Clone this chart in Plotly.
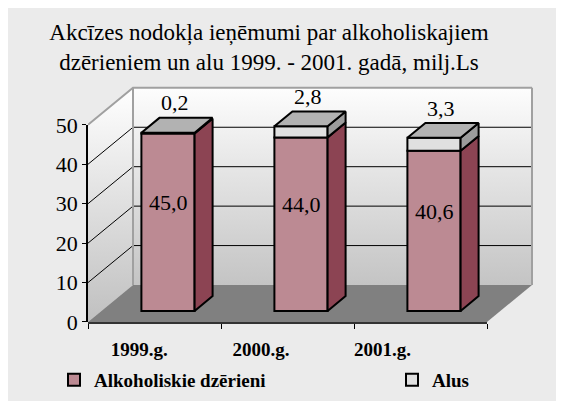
import plotly.graph_objects as go

# ---------------- data ----------------
categories = ["1999.g.", "2000.g.", "2001.g."]
alkoholiskie = [45.0, 44.0, 40.6]
alus = [0.2, 2.8, 3.3]
series_names = ["Alkoholiskie dzērieni", "Alus"]
y_ticks = [0, 10, 20, 30, 40, 50]
title_lines = ["Akcīzes nodokļa ieņēmumi par alkoholiskajiem",
               "dzērieniem un alu 1999. - 2001. gadā, milj.Ls"]


def fmt(v):
    return f"{v:.1f}".replace(".", ",")


# ---------------- geometry / style ----------------
PAGE = 8                          # page body margin in front of the figure
FIG_W, FIG_H = 556, 393
M_L, M_R, M_T, M_B = 80, 30, 77, 79
PW = FIG_W - M_L - M_R
PH = FIG_H - M_T - M_B
N = len(categories)
X_MIN = -0.5
X_PX = 133.0                      # pixels per category
X_MAX = X_MIN + PW / X_PX
Y_MAX = 60.1
Y_PX = PH / Y_MAX
DX = 45 / X_PX                    # full depth of the 3D box (x units)
DY = 37 / Y_PX                    # full depth of the 3D box (y units)
WALL_TOP = y_ticks[-1]
FRONT = 0.3                       # bar front position in depth
DEPTH = 0.4                       # bar thickness in depth
BAR_W = 0.4
BAR_OFF = FRONT * DX - BAR_W / 2
SDX, SDY = DEPTH * DX, DEPTH * DY
BASE = FRONT * DY

FONT = "Liberation Serif"
BG = "#ebebeb"
ALK_FRONT, ALK_SIDE = "#bc8a93", "#8c4453"
ALUS_FRONT, ALUS_SIDE, ALUS_TOP = "#e0e0e0", "#9c9c9c", "#b2b2b2"
EDGE = "#a0a0a0"


def px_x(p):   # page pixel -> paper fraction
    return (p - PAGE - M_L) / PW


def px_y(p):
    return (FIG_H - M_B - (p - PAGE)) / PH


fig = go.Figure()

# ---- walls and floor (main subplot x/y) ----
bx0, bx1 = X_MIN + DX, X_MIN + N + DX
fig.add_trace(go.Scatter(
    x=[X_MIN, X_MIN, bx0, bx0, X_MIN], y=[0, WALL_TOP, WALL_TOP + DY, DY, 0],
    fill="toself", mode="none", hoverinfo="skip", showlegend=False,
    fillgradient=dict(type="vertical", colorscale=[[0, "#c0c0c0"], [1, "#ffffff"]])))
fig.add_trace(go.Scatter(
    x=[bx0, bx1, bx1, bx0, bx0], y=[DY, DY, WALL_TOP + DY, WALL_TOP + DY, DY],
    fill="toself", mode="none", hoverinfo="skip", showlegend=False,
    fillgradient=dict(type="vertical", colorscale=[[0, "#c4c4c4"], [1, "#fdfdfd"]])))
fig.add_trace(go.Scatter(
    x=[X_MIN, X_MIN + N, bx1, bx0, X_MIN], y=[0, 0, DY, DY, 0],
    fill="toself", mode="none", fillcolor="#808080", hoverinfo="skip", showlegend=False))

gx, gy = [], []
for t in y_ticks[1:-1]:
    gx += [X_MIN, bx0, bx1, None]
    gy += [t, t + DY, t + DY, None]
fig.add_trace(go.Scatter(x=gx, y=gy, mode="lines", line=dict(color="black", width=1),
                         hoverinfo="skip", showlegend=False))
fig.add_trace(go.Scatter(
    x=[X_MIN, bx0, bx1, None, bx0, bx0, None, bx1, bx1],
    y=[WALL_TOP, WALL_TOP + DY, WALL_TOP + DY, None, DY, WALL_TOP + DY, None, DY, WALL_TOP + DY],
    mode="lines", line=dict(color=EDGE, width=2), hoverinfo="skip", showlegend=False))

# ---- bars (overlay subplot x3/y, drawn above the walls) ----
pos = list(range(N))
alk_base = [BASE] * N
alus_base = [BASE + a for a in alkoholiskie]
fig.add_trace(go.Bar(x=pos, y=alkoholiskie, base=alk_base, width=BAR_W, offset=BAR_OFF,
                     name=series_names[0], legend="legend", xaxis="x3", yaxis="y",
                     marker=dict(color=ALK_FRONT, line=dict(color="black", width=2))))
fig.add_trace(go.Bar(x=pos, y=alus, base=alus_base, width=BAR_W, offset=BAR_OFF,
                     name=series_names[1], legend="legend2", xaxis="x3", yaxis="y",
                     marker=dict(color=ALUS_FRONT, line=dict(color="black", width=2))))


def side_faces(bases, values):
    xs, ys = [], []
    for i, (b, v) in enumerate(zip(bases, values)):
        xr = i + BAR_OFF + BAR_W
        xs += [xr, xr + SDX, xr + SDX, xr, xr, None]
        ys += [b, b + SDY, b + v + SDY, b + v, b, None]
    return xs, ys


for bases, vals, col in [(alk_base, alkoholiskie, ALK_SIDE), (alus_base, alus, ALUS_SIDE)]:
    sx, sy = side_faces(bases, vals)
    fig.add_trace(go.Scatter(x=sx, y=sy, fill="toself", fillcolor=col, mode="lines",
                             line=dict(color="black", width=2), xaxis="x3", yaxis="y",
                             hoverinfo="skip", showlegend=False))

tx, ty = [], []
for i, (b, v) in enumerate(zip(alus_base, alus)):
    xl = i + BAR_OFF
    xr = xl + BAR_W
    top = b + v
    tx += [xl, xr, xr + SDX, xl + SDX, xl, None]
    ty += [top, top, top + SDY, top + SDY, top, None]
fig.add_trace(go.Scatter(x=tx, y=ty, fill="toself", fillcolor=ALUS_TOP, mode="lines",
                         line=dict(color="black", width=2), xaxis="x3", yaxis="y",
                         hoverinfo="skip", showlegend=False))

# invisible helpers so the visible axes are drawn
LABEL_START, LABEL_STEP = -0.115, 0.915
label_pos = [LABEL_START + i * LABEL_STEP for i in range(N)]
fig.add_trace(go.Scatter(x=label_pos, y=[0] * N, xaxis="x2", yaxis="y", mode="markers",
                         marker=dict(opacity=0), hoverinfo="skip", showlegend=False))
fig.add_trace(go.Scatter(x=[0], y=y_ticks[:1], xaxis="x", yaxis="y2", mode="markers",
                         marker=dict(opacity=0), hoverinfo="skip", showlegend=False))

# ---- data labels ----
ann = []
for i, (a, u) in enumerate(zip(alkoholiskie, alus)):
    ann.append(dict(x=i + FRONT * DX, y=BASE + a / 2 + 4.9, xref="x", yref="y",
                    text=fmt(a), showarrow=False, font=dict(family=FONT, size=22, color="black")))
    ann.append(dict(x=i + FRONT * DX + SDX * 0.4, y=BASE + a + u + SDY + 3.8, xref="x", yref="y",
                    text=fmt(u), showarrow=False, font=dict(family=FONT, size=22, color="black")))

fig.update_layout(
    width=FIG_W, height=FIG_H,
    margin=dict(l=M_L, r=M_R, t=M_T, b=M_B, autoexpand=False),
    paper_bgcolor=BG, plot_bgcolor="rgba(0,0,0,0)",
    barmode="overlay",
    font=dict(family=FONT, color="black"),
    title=dict(text="<br>".join(title_lines), x=px_x(269), xref="paper", xanchor="center",
               y=1 - (40 - PAGE) / FIG_H, yanchor="middle",
               font=dict(family=FONT, size=23, color="black")),
    xaxis=dict(range=[X_MIN, X_MAX], domain=[0, 1], visible=False, fixedrange=True),
    yaxis=dict(range=[0, Y_MAX], domain=[0, 1], visible=False, fixedrange=True),
    xaxis3=dict(range=[X_MIN, X_MAX], overlaying="x", visible=False, fixedrange=True),
    xaxis2=dict(range=[X_MIN, X_MIN + N], domain=[0, N / (X_MAX - X_MIN)], anchor="y",
                showline=True, linecolor="#333333", linewidth=2, showgrid=False, zeroline=False,
                tickmode="array", tickvals=label_pos, ticktext=categories,
                ticks="outside", ticklen=9, tickcolor="rgba(0,0,0,0)",
                tickfont=dict(family=FONT, size=19, color="black", weight="bold"),
                minor=dict(tickmode="array", tickvals=[X_MIN + k for k in range(N + 1)],
                           ticks="outside", ticklen=5, tickcolor="black", tickwidth=1),
                fixedrange=True),
    yaxis2=dict(range=[0, WALL_TOP], domain=[0, WALL_TOP / Y_MAX], anchor="x",
                showline=True, linecolor="black", linewidth=1.5, showgrid=False, zeroline=False,
                tickmode="array", tickvals=y_ticks, ticks="outside", ticklen=4,
                tickcolor="black", tickfont=dict(family=FONT, size=22, color="black"),
                fixedrange=True),
    showlegend=True,
    legend=dict(x=px_x(54), y=px_y(380), xanchor="left", yanchor="middle",
                orientation="h", bgcolor="rgba(0,0,0,0)",
                font=dict(family=FONT, size=19, color="black", weight="bold")),
    legend2=dict(x=px_x(392), y=px_y(380), xanchor="left", yanchor="middle",
                 orientation="h", bgcolor="rgba(0,0,0,0)",
                 font=dict(family=FONT, size=19, color="black", weight="bold")),
    annotations=ann,
)

fig.write_html("out.html")
